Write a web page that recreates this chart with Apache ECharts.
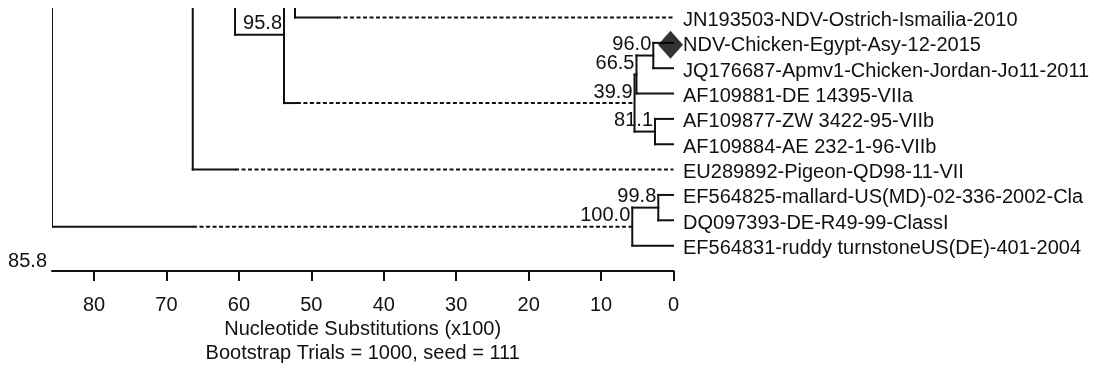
<!DOCTYPE html>
<html><head><meta charset="utf-8">
<script src="https://cdn.jsdelivr.net/npm/echarts@6/dist/echarts.min.js"></script>
<style>html,body{margin:0;padding:0;background:#fff}#c{width:1097px;height:370px}</style>
</head><body><div id="c"></div>
<script>
// ---- data ----
const leafNames = [
  'JN193503-NDV-Ostrich-Ismailia-2010',
  'NDV-Chicken-Egypt-Asy-12-2015',
  'JQ176687-Apmv1-Chicken-Jordan-Jo11-2011',
  'AF109881-DE 14395-VIIa',
  'AF109877-ZW 3422-95-VIIb',
  'AF109884-AE 232-1-96-VIIb',
  'EU289892-Pigeon-QD98-11-VII',
  'EF564825-mallard-US(MD)-02-336-2002-Cla',
  'DQ097393-DE-R49-99-ClassI',
  'EF564831-ruddy turnstoneUS(DE)-401-2004'
];
const leafDist = [0, 0, 0, 0, 0, 0, 0, 0, 0, 0];
const markedLeaf = 1;

const nodeNames     = ['H', 'G', 'I', 'F', 'K', 'J', 'E', 'D', 'C', 'B', 'R'];
const nodeDist      = [2.79, 5.11, 2.55, 5.38, 2.10, 5.69, 52.25, 53.77, 60.53, 66.37, 85.8];
const nodeChildren  = [['L1','L2'], ['H','L3'], ['L4','L5'], ['G','I'], ['L7','L8'], ['K','L9'],
                       ['cutE','L0'], ['E','F'], ['cutC','D'], ['cutB','L6'], ['cutR','J']];
const nodeBootstrap = [96.0, 66.5, 81.1, 39.9, 99.8, 100.0, null, 95.8, null, null, null];

// subtrees cut off above the visible area (row positions)
const cutNames = ['cutE', 'cutC', 'cutB', 'cutR'];
const cutRows  = [-4.04, -3, -8, -9];

// branches drawn solid up to a distance, then dashed to the child
const dashedParent = ['E', 'D', 'B', 'R'];
const dashedChild  = ['L0', 'F', 'L6', 'J'];
const dashedSolidTo = [46.45, 51.99, 60.53, 66.33];

const tickValues = [0, 10, 20, 30, 40, 50, 60, 70, 80];
const axisTitle = 'Nucleotide Substitutions (x100)';
const axisSubtitle = 'Bootstrap Trials = 1000, seed = 111';
const rootName = 'R';

// ---- build geometry from tree ----
const FONT = "'Liberation Sans', Arial, sans-serif";
const FS = 20;
const INK = '#111';
function isLeaf(id){ return id[0] === 'L'; }
function isCut(id){ return id.indexOf('cut') === 0; }
function distOf(id){
  if (isLeaf(id)) return leafDist[+id.slice(1)];
  return nodeDist[nodeNames.indexOf(id)];
}
function rowOf(id){
  if (isLeaf(id)) return +id.slice(1);
  if (isCut(id)) return cutRows[cutNames.indexOf(id)];
  const ch = nodeChildren[nodeNames.indexOf(id)];
  return (rowOf(ch[0]) + rowOf(ch[ch.length - 1])) / 2;
}
const segments = [];
nodeNames.forEach(function(n, i){
  const d = nodeDist[i];
  const ch = nodeChildren[i];
  segments.push([d, rowOf(ch[0]), d, rowOf(ch[ch.length - 1]), 0]);
  ch.forEach(function(c){
    if (isCut(c)) return;
    const y = rowOf(c), cd = distOf(c);
    let k = -1;
    for (let j = 0; j < dashedParent.length; j++) if (dashedParent[j] === n && dashedChild[j] === c) k = j;
    if (k >= 0) {
      segments.push([d, y, dashedSolidTo[k], y, 0]);
      segments.push([dashedSolidTo[k], y, cd, y, 1]);
    } else {
      segments.push([d, y, cd, y, 0]);
    }
  });
});
const bootData = [];
nodeNames.forEach(function(n, i){
  if (nodeBootstrap[i] != null) bootData.push([nodeDist[i], rowOf(n), nodeBootstrap[i]]);
});
const leafData = leafNames.map(function(nm, i){ return [leafDist[i], i]; });

const chart = echarts.init(document.getElementById('c'), null, {renderer: 'canvas'});
chart.setOption({
  animation: false,
  backgroundColor: '#fff',
  grid: {left: 52, right: 423.5, top: 8, bottom: 99, containLabel: false},
  title: {
    text: axisTitle, subtext: axisSubtitle,
    left: 362.7, top: 319, textAlign: 'center', itemGap: 4, padding: 0,
    textStyle: {fontSize: FS, fontWeight: 'normal', color: INK, fontFamily: FONT},
    subtextStyle: {fontSize: FS, color: INK, fontFamily: FONT}
  },
  xAxis: {
    type: 'value', inverse: true, position: 'bottom', min: 0, max: nodeDist[nodeNames.indexOf(rootName)], interval: 10,
    axisLine: {show: true, onZero: false, lineStyle: {color: '#111', width: 2}},
    axisTick: {show: true, length: 10, customValues: tickValues, lineStyle: {color: '#111', width: 2}},
    axisLabel: {customValues: tickValues, margin: 24, fontSize: FS, color: INK, fontFamily: FONT,
      formatter: function(v){ return tickValues.indexOf(v) >= 0 ? String(v) : ''; }},
    splitLine: {show: false},
    name: nodeDist[nodeNames.indexOf(rootName)].toFixed(1), nameLocation: 'end', nameGap: 5,
    nameTextStyle: {fontSize: FS, color: INK, fontFamily: FONT, align: 'right', verticalAlign: 'bottom'}
  },
  yAxis: {type: 'value', inverse: true, min: -0.375, max: 10, show: false},
  series: [
    {
      type: 'custom', clip: true, data: segments,
      encode: {x: [0, 2], y: [1, 3]},
      renderItem: function(params, api){
        const p1 = api.coord([api.value(0), api.value(1)]);
        const p2 = api.coord([api.value(2), api.value(3)]);
        const dashed = api.value(4) === 1;
        return {type: 'line', shape: {x1: p1[0], y1: p1[1], x2: p2[0], y2: p2[1]},
          style: {stroke: '#111', lineWidth: 2, lineDash: dashed ? [4, 2.5] : null, lineCap: dashed ? 'butt' : 'square'}};
      }
    },
    {
      type: 'custom', clip: false, data: bootData,
      encode: {x: 0, y: 1},
      renderItem: function(params, api){
        const p = api.coord([api.value(0), api.value(1)]);
        return {type: 'text', x: p[0] - 2, y: p[1] - 1,
          style: {text: api.value(2).toFixed(1), align: 'right', verticalAlign: 'bottom', font: FS + 'px ' + FONT, fill: INK}};
      }
    },
    {
      type: 'custom', clip: false, data: leafData,
      encode: {x: 0, y: 1},
      renderItem: function(params, api){
        const p = api.coord([api.value(0), api.value(1)]);
        return {type: 'text', x: p[0] + 9.5, y: p[1] + 3,
          style: {text: leafNames[params.dataIndex], align: 'left', verticalAlign: 'middle', font: FS + 'px ' + FONT, fill: INK}};
      }
    },
    {
      type: 'scatter', clip: false, data: [[leafDist[markedLeaf], markedLeaf]],
      symbol: 'diamond', symbolSize: [25, 28], symbolOffset: [-3, 2],
      itemStyle: {color: '#000'}, silent: true
    }
  ]
});
</script></body></html>
